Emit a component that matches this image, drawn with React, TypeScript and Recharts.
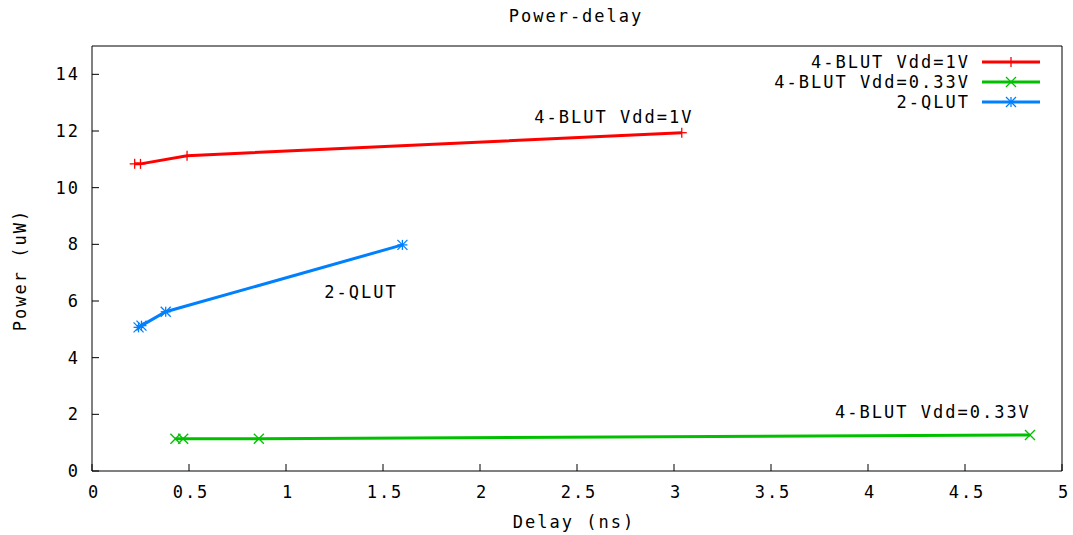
import React from 'react';
import {
    ComposedChart,
    Line,
    XAxis,
    YAxis,
    Legend,
    ReferenceDot
} from 'recharts';

const FONT = '"DejaVu Sans Mono", "Liberation Mono", monospace';

// delay (ns) / power (uW)
const blut1vDelay = [0.22, 0.25, 0.49, 3.04];
const blut1vPower = [10.84, 10.84, 11.13, 11.94];

const blut033Delay = [0.43, 0.47, 0.86, 4.835];
const blut033Power = [1.14, 1.14, 1.14, 1.27];

const qlutDelay = [0.24, 0.255, 0.38, 1.6];
const qlutPower = [5.07, 5.13, 5.62, 7.98];

const xTicks = [0, 0.5, 1, 1.5, 2, 2.5, 3, 3.5, 4, 4.5, 5];
const yTicks = [0, 2, 4, 6, 8, 10, 12, 14];

const seriesNames = ['4-BLUT Vdd=1V', '4-BLUT Vdd=0.33V', '2-QLUT'];
const seriesColors = ['#ff0000', '#00c000', '#0080ff'];
const markerKinds = ['plus', 'cross', 'star'];

// in-plot labels: [delay, power] of the label centre
const labelPos = [
    [2.69, 12.5],
    [4.335, 2.08],
    [1.387, 6.32]
];

const toPoints = (xs: number[], ys: number[]) => xs.map((x, i) => ({ x, y: ys[i] }));

const seriesData = [
    toPoints(blut1vDelay, blut1vPower),
    toPoints(blut033Delay, blut033Power),
    toPoints(qlutDelay, qlutPower)
];

const Marker = ({ cx, cy, kind, color }: any) => {
    if (cx == null || cy == null) return null;
    const s = 5;
    const w = 1.3;
    if (kind === 'plus') {
        return (
            <g stroke={color} strokeWidth={w}>
                <line x1={cx - s} y1={cy} x2={cx + s} y2={cy} />
                <line x1={cx} y1={cy - s} x2={cx} y2={cy + s} />
            </g>
        );
    }
    if (kind === 'cross') {
        return (
            <g stroke={color} strokeWidth={w}>
                <line x1={cx - s} y1={cy - s} x2={cx + s} y2={cy + s} />
                <line x1={cx - s} y1={cy + s} x2={cx + s} y2={cy - s} />
            </g>
        );
    }
    return (
        <g stroke={color} strokeWidth={w}>
            <line x1={cx - s} y1={cy} x2={cx + s} y2={cy} />
            <line x1={cx} y1={cy - s} x2={cx} y2={cy + s} />
            <line x1={cx - s} y1={cy - s} x2={cx + s} y2={cy + s} />
            <line x1={cx - s} y1={cy + s} x2={cx + s} y2={cy - s} />
        </g>
    );
};

const TICK = 7;
const textStyle = { fontFamily: FONT, fontSize: 17, fill: '#000', letterSpacing: 2 };

const BottomTick = ({ x, y, payload }: any) => (
    <g>
        <line x1={x} y1={y} x2={x} y2={y - TICK} stroke="#000" />
        <text x={x + 2} y={y + 27} textAnchor="middle" style={textStyle}>{payload.value}</text>
    </g>
);

const TopTick = ({ x, y }: any) => (
    <line x1={x} y1={y} x2={x} y2={y + TICK} stroke="#000" />
);

const LeftTick = ({ x, y, payload }: any) => (
    <g>
        <line x1={x} y1={y} x2={x + TICK} y2={y} stroke="#000" />
        <text x={x - 12} y={y} textAnchor="end" dominantBaseline="central" style={textStyle}>{payload.value}</text>
    </g>
);

const RightTick = ({ x, y }: any) => (
    <line x1={x} y1={y} x2={x - TICK} y2={y} stroke="#000" />
);

const LegendBox = () => (
    <svg width={300} height={70}>
        {seriesNames.map((name, i) => (
            <g key={name}>
                <text x={210} y={10 + i * 20} textAnchor="end" dominantBaseline="central" style={textStyle}>{name}</text>
                <line x1={222} y1={10 + i * 20} x2={280} y2={10 + i * 20} stroke={seriesColors[i]} strokeWidth={3} />
                <Marker cx={251} cy={10 + i * 20} kind={markerKinds[i]} color={seriesColors[i]} />
            </g>
        ))}
    </svg>
);

const App: React.FC = () => {
    return (
        <div style={{ position: 'absolute', left: 0, top: 0, width: 1073, height: 535, background: '#fff' }}>
            <ComposedChart
                width={1073}
                height={535}
                margin={{ top: 41, right: 6, bottom: 34, left: 32 }}
            >
                <XAxis
                    xAxisId="b"
                    type="number"
                    dataKey="x"
                    domain={[0, 5]}
                    ticks={xTicks}
                    allowDataOverflow
                    height={30}
                    tickSize={0}
                    tickMargin={0}
                    tickLine={false}
                    axisLine={{ stroke: '#000' }}
                    tick={<BottomTick />}
                    interval={0}
                />
                <XAxis
                    xAxisId="t"
                    orientation="top"
                    type="number"
                    dataKey="x"
                    domain={[0, 5]}
                    ticks={xTicks}
                    height={5}
                    tickSize={0}
                    tickMargin={0}
                    tickLine={false}
                    axisLine={{ stroke: '#000' }}
                    tick={<TopTick />}
                    interval={0}
                />
                <YAxis
                    yAxisId="l"
                    type="number"
                    domain={[0, 15]}
                    ticks={yTicks}
                    width={60}
                    tickSize={0}
                    tickMargin={0}
                    tickLine={false}
                    axisLine={{ stroke: '#000' }}
                    tick={<LeftTick />}
                    interval={0}
                />
                <YAxis
                    yAxisId="r"
                    orientation="right"
                    type="number"
                    domain={[0, 15]}
                    ticks={yTicks}
                    width={5}
                    tickSize={0}
                    tickMargin={0}
                    tickLine={false}
                    axisLine={{ stroke: '#000' }}
                    tick={<RightTick />}
                    interval={0}
                />
                <Legend
                    layout="horizontal"
                    verticalAlign="middle"
                    align="center"
                    content={<LegendBox />}
                    wrapperStyle={{ position: 'absolute', top: 52, left: 760, width: 300, height: 70 }}
                />

                {seriesData.map((pts, i) => (
                    <Line
                        key={seriesNames[i]}
                        xAxisId="b"
                        yAxisId="l"
                        data={pts}
                        dataKey="y"
                        name={seriesNames[i]}
                        type="linear"
                        stroke={seriesColors[i]}
                        strokeWidth={3}
                        dot={(p: any) => <Marker key={p.index} cx={p.cx} cy={p.cy} kind={markerKinds[i]} color={seriesColors[i]} />}
                        activeDot={false}
                        isAnimationActive={false}
                    />
                ))}

                {seriesNames.map((name, i) => (
                    <ReferenceDot
                        key={'lbl' + name}
                        xAxisId="b"
                        yAxisId="l"
                        x={labelPos[i][0]}
                        y={labelPos[i][1]}
                        r={0}
                        fill="none"
                        stroke="none"
                        label={{ value: name, position: 'center', style: textStyle }}
                    />
                ))}

                <text x={576} y={16} textAnchor="middle" dominantBaseline="central" style={textStyle}>Power-delay</text>
                <text x={574} y={522} textAnchor="middle" dominantBaseline="central" style={textStyle}>Delay (ns)</text>
                <text
                    x={20}
                    y={270}
                    textAnchor="middle"
                    dominantBaseline="central"
                    transform="rotate(-90 20 270)"
                    style={textStyle}
                >Power (uW)</text>
            </ComposedChart>
        </div>
    );
};

export default App;
